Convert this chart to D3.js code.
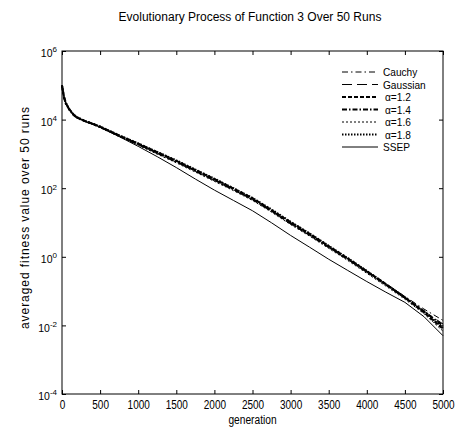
<!DOCTYPE html>
<html>
<head>
<meta charset="utf-8">
<script src="https://cdn.jsdelivr.net/npm/d3@7"></script>
<style>
  body { margin: 0; background: #fff; }
  text { font-family: "Liberation Sans", Arial, sans-serif; fill: #000; }
</style>
</head>
<body>
<div id="chart"></div>
<script>
const generations = [0, 25, 50, 100, 150, 200, 300, 400, 500, 750, 1000, 1250, 1500, 1750, 2000,
                     2250, 2500, 2750, 3000, 3250, 3500, 3750, 4000, 4250, 4500, 4750, 5000];

const cauchy   = [1.02e5, 4.7e4, 3.1e4, 1.95e4, 1.42e4, 1.15e4, 9.1e3, 7.6e3, 6.2e3, 3.4e3, 1.95e3, 1.08e3, 600, 320, 175,
                  93, 48, 22, 9.6, 4.4, 1.95, 0.88, 0.38, 0.165, 0.07, 0.03, 0.014];
const gaussian = [9.8e4, 4.6e4, 3.0e4, 1.9e4, 1.38e4, 1.12e4, 8.9e3, 7.4e3, 6.0e3, 3.3e3, 1.86e3, 1.02e3, 575, 309, 166,
                  89, 46, 21, 9.1, 4.2, 1.86, 0.83, 0.355, 0.151, 0.063, 0.026, 0.011];
const alpha12  = [1.0e5, 4.7e4, 3.0e4, 1.95e4, 1.4e4, 1.15e4, 9.2e3, 7.6e3, 6.2e3, 3.45e3, 2.0e3, 1.12e3, 630, 340, 185,
                  98, 51, 23, 10.2, 4.7, 2.05, 0.9, 0.38, 0.16, 0.065, 0.024, 0.0079];
const alpha14  = [9.6e4, 4.5e4, 2.9e4, 1.88e4, 1.37e4, 1.12e4, 9.0e3, 7.5e3, 6.1e3, 3.35e3, 1.92e3, 1.07e3, 600, 325, 175,
                  93, 48, 22, 9.6, 4.4, 1.95, 0.86, 0.37, 0.155, 0.064, 0.026, 0.0098];
const alpha16  = [1.0e5, 4.5e4, 2.9e4, 1.85e4, 1.35e4, 1.1e4, 8.7e3, 7.2e3, 5.8e3, 3.2e3, 1.8e3, 980, 550, 295, 158,
                  85, 44, 20, 8.7, 4.0, 1.76, 0.78, 0.33, 0.14, 0.058, 0.022, 0.0068];
const alpha18  = [9.7e4, 4.7e4, 3.1e4, 1.95e4, 1.42e4, 1.16e4, 9.2e3, 7.7e3, 6.3e3, 3.5e3, 2.02e3, 1.14e3, 650, 350, 190,
                  100, 52, 24, 10.5, 4.8, 2.1, 0.92, 0.39, 0.16, 0.066, 0.025, 0.0085];
const ssep     = [9.9e4, 4.6e4, 3.0e4, 1.9e4, 1.38e4, 1.12e4, 8.9e3, 7.4e3, 6.0e3, 3.2e3, 1.66e3, 830, 400, 185, 88,
                  44, 22, 9.8, 4.2, 1.9, 0.85, 0.4, 0.19, 0.093, 0.047, 0.018, 0.005];

const seriesNames = ["Cauchy", "Gaussian", "\u03b1=1.2", "\u03b1=1.4", "\u03b1=1.6", "\u03b1=1.8", "SSEP"];
const seriesValues = [cauchy, gaussian, alpha12, alpha14, alpha16, alpha18, ssep];

const xTicks = [0, 500, 1000, 1500, 2000, 2500, 3000, 3500, 4000, 4500, 5000];
const yTicks = [1e-4, 1e-2, 1, 1e2, 1e4, 1e6];
const yExponents = ["-4", "-2", "0", "2", "4", "6"];

// line styles for each series, same order as seriesNames
const styles = [
    { width: 1,   dash: "6,3,1.5,3" },
    { width: 1,   dash: "10,5" },
    { width: 2,   dash: "4,2" },
    { width: 2,   dash: "5,2,1.5,2" },
    { width: 1,   dash: "2,2" },
    { width: 2,   dash: "1.5,1.5" },
    { width: 1,   dash: null }
];

const margin = { top: 51, right: 25, bottom: 44, left: 62 },
      width  = 468 - margin.left - margin.right,
      height = 438 - margin.top - margin.bottom;

const root = d3.select("#chart").append("svg")
    .attr("width", 468)
    .attr("height", 438);

root.append("text")
    .attr("x", 250)
    .attr("y", 21)
    .attr("text-anchor", "middle")
    .style("font-size", "12px")
    .text("Evolutionary Process of Function 3 Over 50 Runs");

const svg = root.append("g")
    .attr("transform", `translate(${margin.left},${margin.top})`);

const x = d3.scaleLinear().domain([0, 5000]).range([0, width]);
const y = d3.scaleLog().domain([1e-4, 1e6]).range([height, 0]);

// axes, ticks pointing inwards like matlab
const xAxis = svg.append("g")
    .attr("transform", `translate(0,${height})`)
    .call(d3.axisBottom(x).tickValues(xTicks).tickSize(-4).tickPadding(6).tickFormat(d3.format("d")))
    .call(g => g.select(".domain").remove());

// narrow the tick numbers like the matlab font
xAxis.selectAll(".tick text")
    .style("font-size", "12.5px")
    .each(function() {
        const w = this.getComputedTextLength();
        d3.select(this).attr("textLength", w * 0.8).attr("lengthAdjust", "spacingAndGlyphs");
    });

svg.append("g")
    .call(d3.axisTop(x).tickValues(xTicks).tickSize(-4).tickFormat(""))
    .call(g => g.select(".domain").remove());

const yAxis = svg.append("g")
    .call(d3.axisLeft(y).tickValues(yTicks).tickSize(-4).tickPadding(5).tickFormat(""))
    .call(g => g.select(".domain").remove());

yAxis.selectAll(".tick text").each(function(d, i) {
    const t = d3.select(this).attr("dy", "0.55em").style("font-size", "10.5px");
    t.append("tspan").text("10");
    t.append("tspan").attr("dy", "-0.6em").style("font-size", "8px").text(yExponents[i]);
});

svg.append("g")
    .attr("transform", `translate(${width},0)`)
    .call(d3.axisRight(y).tickValues(yTicks).tickSize(-4).tickFormat(""))
    .call(g => g.select(".domain").remove());

svg.selectAll(".tick line").attr("stroke", "#000");

svg.append("rect")
    .attr("width", width)
    .attr("height", height)
    .attr("fill", "none")
    .attr("stroke", "#000")
    .attr("stroke-width", 1);

const line = d3.line()
    .x((d, i) => x(generations[i]))
    .y(d => y(d));

svg.selectAll(".series")
    .data(seriesValues)
    .enter().append("path")
    .attr("class", "series")
    .attr("d", d => line(d))
    .attr("fill", "none")
    .attr("stroke", "#000")
    .attr("stroke-width", (d, i) => styles[i].width)
    .attr("stroke-dasharray", (d, i) => styles[i].dash);

// legend without box, top right
const legend = svg.append("g").attr("transform", "translate(280,21)");
seriesNames.forEach((name, i) => {
    const row = legend.append("g").attr("transform", `translate(0,${i * 12.5})`);
    row.append("line")
        .attr("x1", 0).attr("x2", 36)
        .attr("stroke", "#000")
        .attr("stroke-width", styles[i].width)
        .attr("stroke-dasharray", styles[i].dash);
    row.append("text")
        .attr("x", name.startsWith("\u03b1") ? 43 : 41)
        .attr("dy", "0.35em")
        .style("font-size", "11.5px")
        .text(name)
        .each(function() {
            const w = this.getComputedTextLength();
            d3.select(this).attr("textLength", w * 0.88).attr("lengthAdjust", "spacingAndGlyphs");
        });
});

const xLabel = root.append("text")
    .attr("x", margin.left + width / 2)
    .attr("y", 424)
    .attr("text-anchor", "middle")
    .style("font-size", "12px")
    .text("generation");
xLabel.attr("textLength", xLabel.node().getComputedTextLength() * 0.85)
      .attr("lengthAdjust", "spacingAndGlyphs");

root.append("text")
    .attr("transform", "translate(29,218) rotate(-90)")
    .attr("text-anchor", "middle")
    .attr("textLength", 222)
    .attr("lengthAdjust", "spacing")
    .style("font-size", "12px")
    .text("averaged fitness value over 50 runs");
</script>
</body>
</html>
